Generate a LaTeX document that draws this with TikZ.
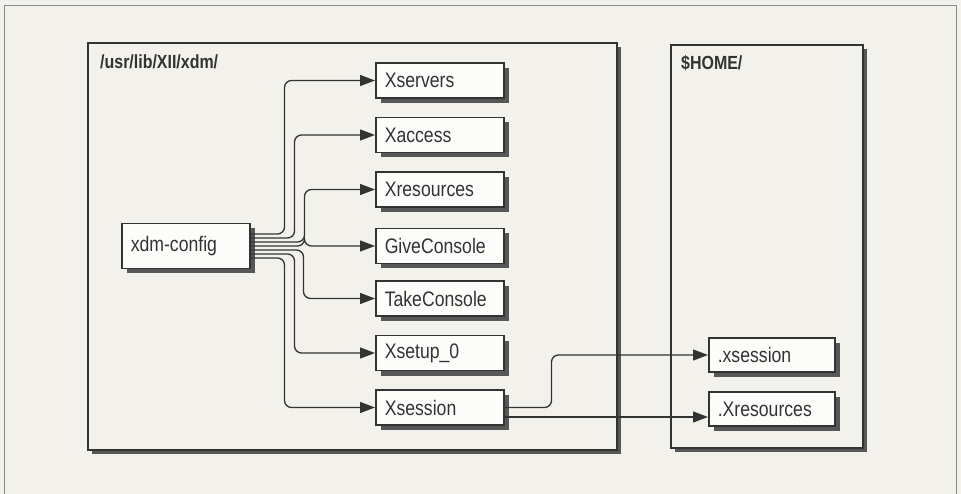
\documentclass[tikz,border=0pt]{standalone}
\usepackage{fontspec}
\setmainfont{Liberation Sans}[FakeStretch=0.84]
\newfontfamily\dirfont{Liberation Sans}[FakeStretch=0.84]
\usepackage{tikz}
\usetikzlibrary{arrows.meta, shadows, calc}
\definecolor{paper}{HTML}{F2F1EB}
\definecolor{boxwhite}{HTML}{FCFCFA}
\definecolor{ink}{HTML}{333333}
\definecolor{shade}{HTML}{575757}
\definecolor{rim}{HTML}{8C8C8C}
\tikzset{
  file/.style={draw=ink, line width=1.5pt, fill=boxwhite, text=ink,
    minimum height=35pt, text width=110pt, inner xsep=9pt, align=left,
    anchor=west, font=\fontsize{21}{23}\selectfont,
    drop shadow={shadow xshift=5pt, shadow yshift=-5pt, fill=shade, opacity=1}},
  folder/.style={draw=ink, line width=2pt, fill=paper,
    drop shadow={shadow xshift=4pt, shadow yshift=-4pt, fill=shade, opacity=1}},
  dirname/.style={anchor=north west, inner sep=0pt, text=ink,
    font=\dirfont\bfseries\fontsize{19}{21}\selectfont},
  link/.style={draw=ink, line width=1.3pt, rounded corners=7pt,
    -{Triangle[length=15pt,width=11pt]}}
}

\begin{document}
\begin{tikzpicture}[x=1pt, y=-1pt]
  \useasboundingbox[fill=paper] (0,0) rectangle (961,494);
  \draw[rim, line width=1pt] (4,494) -- (4,6) -- (956,6) -- (956,494);

  \draw[folder] (88,43) rectangle (617,450);
  \draw[folder] (671,45) rectangle (863,448);
  \node[dirname] (libdir) at (100,55) {/usr/lib/XII/xdm/};
  \node[dirname] (homedir) at (681,55) {\$HOME/};

  \node[file, minimum height=45pt] (cfg) at (121,246) {xdm-config};

  \foreach \name/\label/\y/\dy/\xv in {
    srv/Xservers/80.5/-12/283,
    acc/Xaccess/135/-8/293,
    res/Xresources/189.5/-4/303,
    give/GiveConsole/246/0/303,
    take/TakeConsole/298.5/4/302,
    setup/Xsetup\_0/353/8/293,
    xsess/Xsession/407.5/12/283
  }{
    \node[file] (\name) at (375,\y) {\label};
    \draw[link] ($(cfg.east)+(0,\dy)$) -- ++(\xv-249,0) |- (\name.west);
  }

  \node[file, minimum height=34pt, text width=108pt] (xsn) at (708,355) {.xsession};
  \node[file, minimum height=34pt, text width=108pt] (xrs) at (708,409) {.Xresources};

  \draw[link] (xsess.east) -- ++(47,0) |- (xsn.west);
  \coordinate (low) at ($(xsess.east)+(0,9.5)$);
  \draw[link] (low) -- (low -| xrs.west);
\end{tikzpicture}
\end{document}
